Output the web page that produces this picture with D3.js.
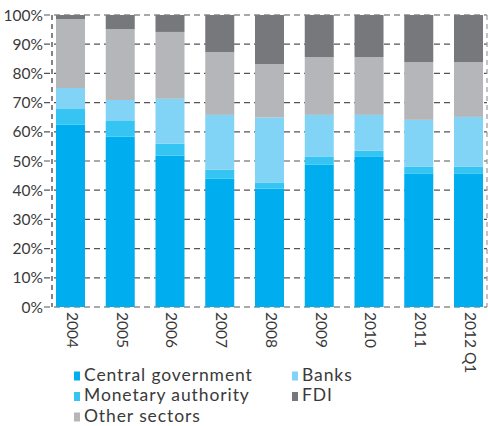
<!DOCTYPE html>
<html>
<head>
<meta charset="utf-8">
<script src="https://cdn.jsdelivr.net/npm/d3@7"></script>
<style>
  html, body { margin: 0; padding: 0; background: #fff; }
  svg { display: block; font-family: Lato, "DejaVu Sans", sans-serif; }
</style>
</head>
<body>
<svg id="chart" width="488" height="426"></svg>
<script>
// Shares of external debt by sector, per year (percent of total)
const years = ["2004", "2005", "2006", "2007", "2008", "2009", "2010", "2011", "2012 Q1"];
const centralGovernment = [62.4, 58.3, 51.8, 43.9, 40.5, 48.7, 51.4, 45.6, 45.6];
const monetaryAuthority = [5.4, 5.4, 4.1, 3.1, 2.0, 2.7, 2.1, 2.4, 2.4];
const banks = [7.2, 7.2, 15.4, 18.8, 22.4, 14.4, 12.3, 16.1, 17.1];
const otherSectors = [23.6, 24.3, 22.9, 21.5, 18.3, 19.8, 19.8, 19.8, 18.8];
const fdi = [1.4, 4.8, 5.8, 12.7, 16.8, 14.4, 14.4, 16.1, 16.1];
const yTicks = [0, 10, 20, 30, 40, 50, 60, 70, 80, 90, 100];

const seriesNames = ["Central government", "Monetary authority", "Banks", "Other sectors", "FDI"];
const seriesValues = [centralGovernment, monetaryAuthority, banks, otherSectors, fdi];
const colors = ["#00aeef", "#36c4f3", "#82d4f7", "#b5b6b9", "#77787c"];

const rows = years.map((yr, i) => {
  const r = { year: yr };
  seriesNames.forEach((n, k) => { r[n] = seriesValues[k][i]; });
  return r;
});
const stacked = d3.stack().keys(seriesNames)(rows);

const svg = d3.select("#chart");
const plotLeft = 52, plotRight = 487, plotTop = 15, plotBottom = 307;

const x = d3.scaleBand().domain(years).range([plotLeft, plotRight])
  .paddingInner(0.417).paddingOuter(0.08);
const y = d3.scaleLinear().domain([0, 100]).range([plotBottom, plotTop]);
const color = d3.scaleOrdinal().domain(seriesNames).range(colors);

// Dashed gridlines (with tick stubs reaching left of the axis)
svg.append("g")
  .selectAll("line")
  .data(yTicks)
  .join("line")
  .attr("x1", plotLeft - 8).attr("x2", plotRight)
  .attr("y1", d => y(d)).attr("y2", d => y(d))
  .attr("stroke", "#555")
  .attr("stroke-width", 1.2)
  .attr("stroke-dasharray", "6,4");

// Left axis and right frame edge, dashed
svg.append("line")
  .attr("x1", plotLeft).attr("x2", plotLeft).attr("y1", y(100)).attr("y2", y(0))
  .attr("stroke", "#333").attr("stroke-width", 1.2).attr("stroke-dasharray", "5,4");
svg.append("line")
  .attr("x1", plotRight).attr("x2", plotRight).attr("y1", y(100)).attr("y2", y(0))
  .attr("stroke", "#999").attr("stroke-width", 1.2).attr("stroke-dasharray", "5,4");

// Stacked bars
svg.append("g")
  .selectAll("g")
  .data(stacked)
  .join("g")
  .attr("fill", d => color(d.key))
  .selectAll("rect")
  .data(d => d)
  .join("rect")
  .attr("x", d => x(d.data.year))
  .attr("width", x.bandwidth())
  .attr("y", d => y(d[1]))
  .attr("height", d => y(d[0]) - y(d[1]));

// Y tick labels
svg.append("g")
  .selectAll("text")
  .data(yTicks)
  .join("text")
  .attr("x", 43)
  .attr("y", d => y(d))
  .attr("dy", "0.36em")
  .attr("text-anchor", "end")
  .attr("font-size", 15.5)
  .attr("fill", "#3a3a3a")
  .text(d => d + "%");

// X labels, rotated to read downward
svg.append("g")
  .selectAll("text")
  .data(years)
  .join("text")
  .attr("transform", d => `translate(${x(d) + x.bandwidth() / 2 + 2},312) rotate(90)`)
  .attr("dy", "0.36em")
  .attr("text-anchor", "start")
  .attr("font-size", 15.5)
  .attr("fill", "#3a3a3a")
  .text(d => d);

// Legend (y is the text baseline)
const legendPos = [
  { name: "Central government", x: 74, y: 380.5 },
  { name: "Monetary authority", x: 74, y: 401 },
  { name: "Other sectors", x: 74, y: 421.5 },
  { name: "Banks", x: 292, y: 380.5 },
  { name: "FDI", x: 292, y: 401 }
];
const legend = svg.append("g")
  .selectAll("g")
  .data(legendPos)
  .join("g")
  .attr("transform", d => `translate(${d.x},${d.y})`);
legend.append("rect")
  .attr("x", 0).attr("y", -9).attr("width", 6).attr("height", 9)
  .attr("fill", d => color(d.name));
legend.append("text")
  .attr("x", 10).attr("y", 0)
  .attr("font-size", 17.5)
  .attr("letter-spacing", 0.9)
  .attr("fill", "#3a3a3a")
  .text(d => d.name);
</script>
</body>
</html>
